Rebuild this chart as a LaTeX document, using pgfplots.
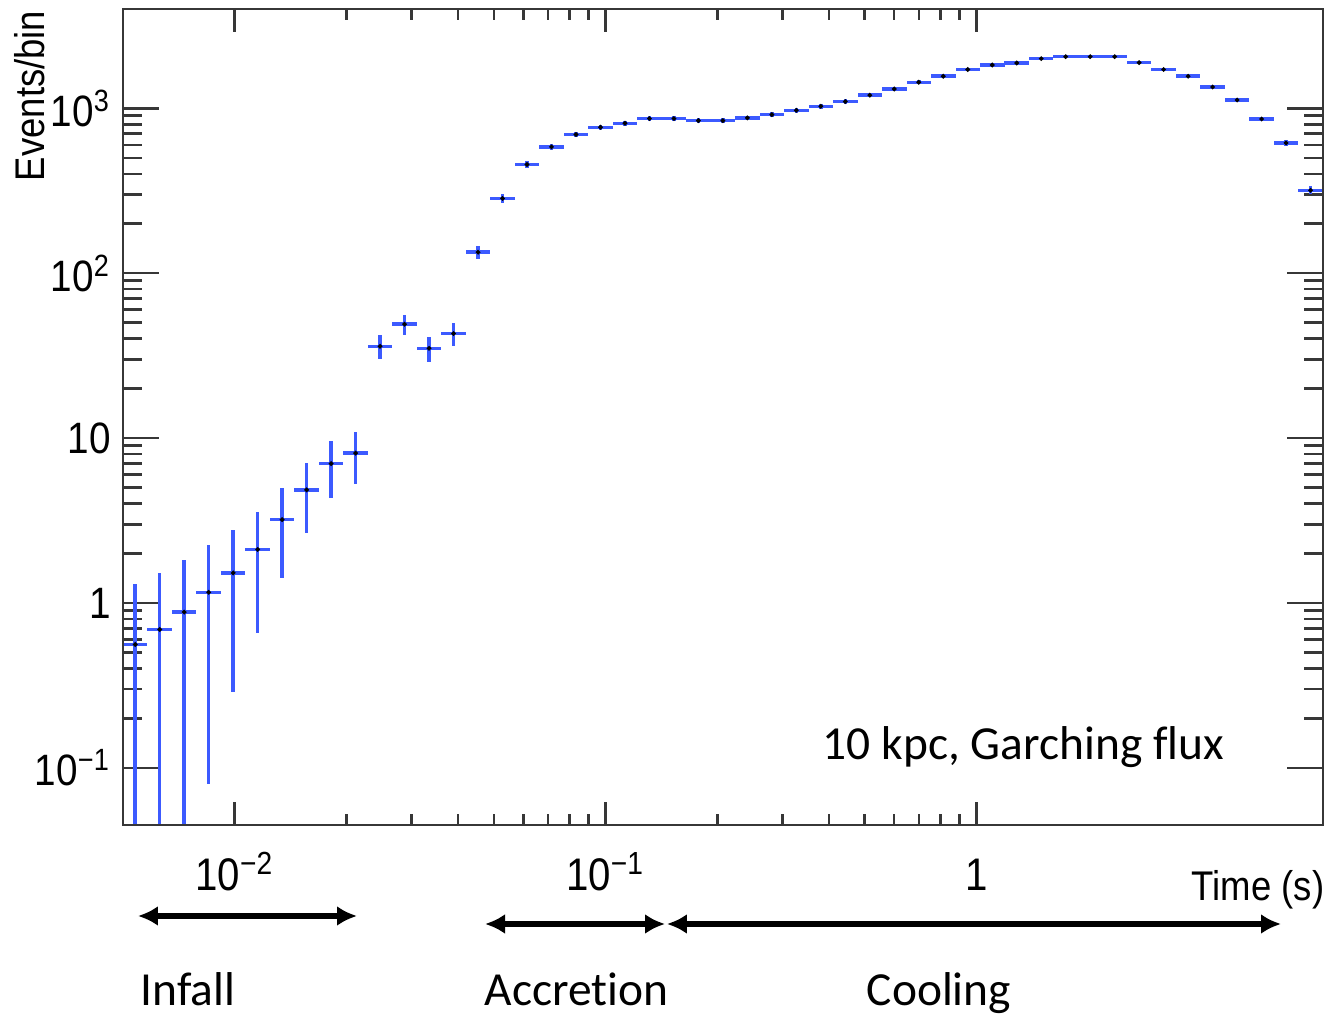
\documentclass[border=0pt]{standalone}
\usepackage{fontspec}
\usepackage{pgfplots}
\usepackage{pgfplotstable}
\pgfplotsset{compat=1.18}
\usetikzlibrary{arrows.meta,calc}
\setmainfont{Liberation Sans}
\newfontfamily\rootfont[FakeStretch=0.88]{Liberation Sans}
\newfontfamily\calib[Ligatures={NoCommon,NoRare}]{Carlito}
\definecolor{histblue}{RGB}{60,90,255}
\definecolor{frame}{RGB}{55,55,55}

% bin centre, content, relative x half-widths, y errors (sqrt N)
\pgfplotstableread{
x y exp exm eyp eym
0.0053949 0.56 0.079 0.0732 0.75 0.555
0.0062806 0.69 0.079 0.0732 0.83 0.685
0.0073117 0.88 0.079 0.0732 0.94 0.875
0.0085121 1.16 0.079 0.0732 1.08 1.08
0.0099097 1.52 0.079 0.0732 1.23 1.23
0.011537 2.11 0.079 0.0732 1.45 1.45
0.013431 3.2 0.079 0.0732 1.79 1.79
0.015636 4.85 0.079 0.0732 2.2 2.2
0.018203 7.0 0.079 0.0732 2.65 2.65
0.021192 8.1 0.079 0.0732 2.85 2.85
0.024671 36 0.079 0.0732 6.0 6.0
0.028722 49 0.079 0.0732 7.0 7.0
0.033438 35 0.079 0.0732 5.9 5.9
0.038927 43 0.079 0.0732 6.6 6.6
0.045318 134 0.079 0.0732 11.6 11.6
0.052759 284 0.079 0.0732 16.9 16.9
0.061421 456 0.079 0.0732 21.4 21.4
0.071505 583 0.079 0.0732 24.1 24.1
0.083245 693 0.079 0.0732 26.3 26.3
0.096909 767 0.079 0.0732 27.7 27.7
0.11282 811 0.079 0.0732 28.5 28.5
0.13134 866 0.079 0.0732 29.4 29.4
0.15291 866 0.079 0.0732 29.4 29.4
0.17801 842 0.079 0.0732 29.0 29.0
0.20724 842 0.079 0.0732 29.0 29.0
0.24126 874 0.079 0.0732 29.6 29.6
0.28087 916 0.079 0.0732 30.3 30.3
0.32698 972 0.079 0.0732 31.2 31.2
0.38067 1028 0.079 0.0732 32.1 32.1
0.44317 1098 0.079 0.0732 33.1 33.1
0.51593 1200 0.079 0.0732 34.6 34.6
0.60064 1309 0.079 0.0732 36.2 36.2
0.69924 1438 0.079 0.0732 37.9 37.9
0.81405 1564 0.079 0.0732 39.5 39.5
0.94770 1718 0.079 0.0732 41.4 41.4
1.1033 1830 0.079 0.0732 42.8 42.8
1.2844 1882 0.079 0.0732 43.4 43.4
1.4953 2000 0.079 0.0732 44.7 44.7
1.7408 2056 0.079 0.0732 45.3 45.3
2.0266 2056 0.079 0.0732 45.3 45.3
2.3593 2056 0.079 0.0732 45.3 45.3
2.7466 1892 0.079 0.0732 43.5 43.5
3.1976 1718 0.079 0.0732 41.4 41.4
3.7226 1564 0.079 0.0732 39.5 39.5
4.3337 1346 0.079 0.0732 36.7 36.7
5.0452 1123 0.079 0.0732 33.5 33.5
5.8735 861 0.079 0.0732 29.3 29.3
6.8378 616 0.079 0.0732 24.8 24.8
7.9604 318 0.079 0.0732 17.8 17.8
}\spectrum

\begin{document}
\begin{tikzpicture}
% data, y ticks and all annotations
\begin{axis}[
  name=main,
  width=12cm, height=8.16cm, scale only axis,
  xmode=log, ymode=log,
  xmin=0.005, xmax=8.6, ymin=0.045, ymax=4000,
  axis line style={frame, line width=0.75pt},
  every tick/.style={frame, line width=0.75pt},
  xtick=\empty,
  major tick length=0.36cm, minor tick length=0.19cm,
  ytick={0.1,1,10,100,1000},
  yticklabels={10\textsuperscript{−1},1,10,10\textsuperscript{2},10\textsuperscript{3}},
  tick label style={font=\rootfont\fontsize{12.5}{13}\selectfont},
  clip mode=individual,
]
\addplot[only marks, mark=*, mark size=0.45pt, black,
  error bars/.cd, x dir=both, x explicit relative, y dir=both, y explicit,
  error mark=none, error bar style={line width=1pt, histblue}]
  table[x=x, y=y, x error plus=exp, x error minus=exm,
        y error plus=eyp, y error minus=eym]{\spectrum};

\node[anchor=base west, inner sep=0pt, font=\calib\fontsize{13.5}{16}\selectfont]
  at (rel axis cs:0.5825,0.0797) {10 kpc, Garching flux};
\node[anchor=base east, inner sep=0pt, font=\rootfont\fontsize{11.8}{13}\selectfont]
  at (rel axis cs:1.0017,-0.0919) {Time (s)};
\node[rotate=90, anchor=base east, inner sep=0pt, font=\rootfont\fontsize{11.8}{13}\selectfont]
  at ($(rel axis cs:0,1)+(-0.78cm,-0.01cm)$) {Events/bin};

\draw[{Latex[length=0.2cm,width=0.2cm]}-{Latex[length=0.2cm,width=0.2cm]}, line width=1.5pt]
  (rel axis cs:0.0125,-0.1115) -- (rel axis cs:0.195,-0.1115);
\draw[{Latex[length=0.2cm,width=0.2cm]}-{Latex[length=0.2cm,width=0.2cm]}, line width=1.5pt]
  (rel axis cs:0.3017,-0.1213) -- (rel axis cs:0.4517,-0.1213);
\draw[{Latex[length=0.2cm,width=0.2cm]}-{Latex[length=0.2cm,width=0.2cm]}, line width=1.5pt]
  (rel axis cs:0.4533,-0.1213) -- (rel axis cs:0.965,-0.1213);

\node[anchor=base west, inner sep=0pt, font=\calib\fontsize{13.5}{16}\selectfont]
  at (rel axis cs:0.0142,-0.2206) {Infall};
\node[anchor=base west, inner sep=0pt, font=\calib\fontsize{13.5}{16}\selectfont]
  at (rel axis cs:0.3008,-0.2206) {Accretion};
\node[anchor=base west, inner sep=0pt, font=\calib\fontsize{13.5}{16}\selectfont]
  at (rel axis cs:0.6192,-0.2206) {Cooling};
\end{axis}

% x ticks (shorter, as in the original frame) and their labels
\begin{axis}[
  width=12cm, height=8.16cm, scale only axis,
  xmode=log, ymode=log,
  xmin=0.005, xmax=8.6, ymin=0.045, ymax=4000,
  axis line style={frame, line width=0.75pt},
  every tick/.style={frame, line width=0.75pt},
  ytick=\empty,
  major tick length=0.23cm, minor tick length=0.11cm,
  xtick={0.01,0.1,1},
  xticklabels={10\textsuperscript{−2},10\textsuperscript{−1},1},
  tick label style={font=\rootfont\fontsize{13}{13}\selectfont},
  xticklabel style={anchor=base, yshift=-0.65cm},
]
\end{axis}

\pgfresetboundingbox
\path ($(main.south west)+(-1.23cm,-1.88cm)$) rectangle ($(main.north east)+(0.08cm,0.09cm)$);
\end{tikzpicture}
\end{document}
